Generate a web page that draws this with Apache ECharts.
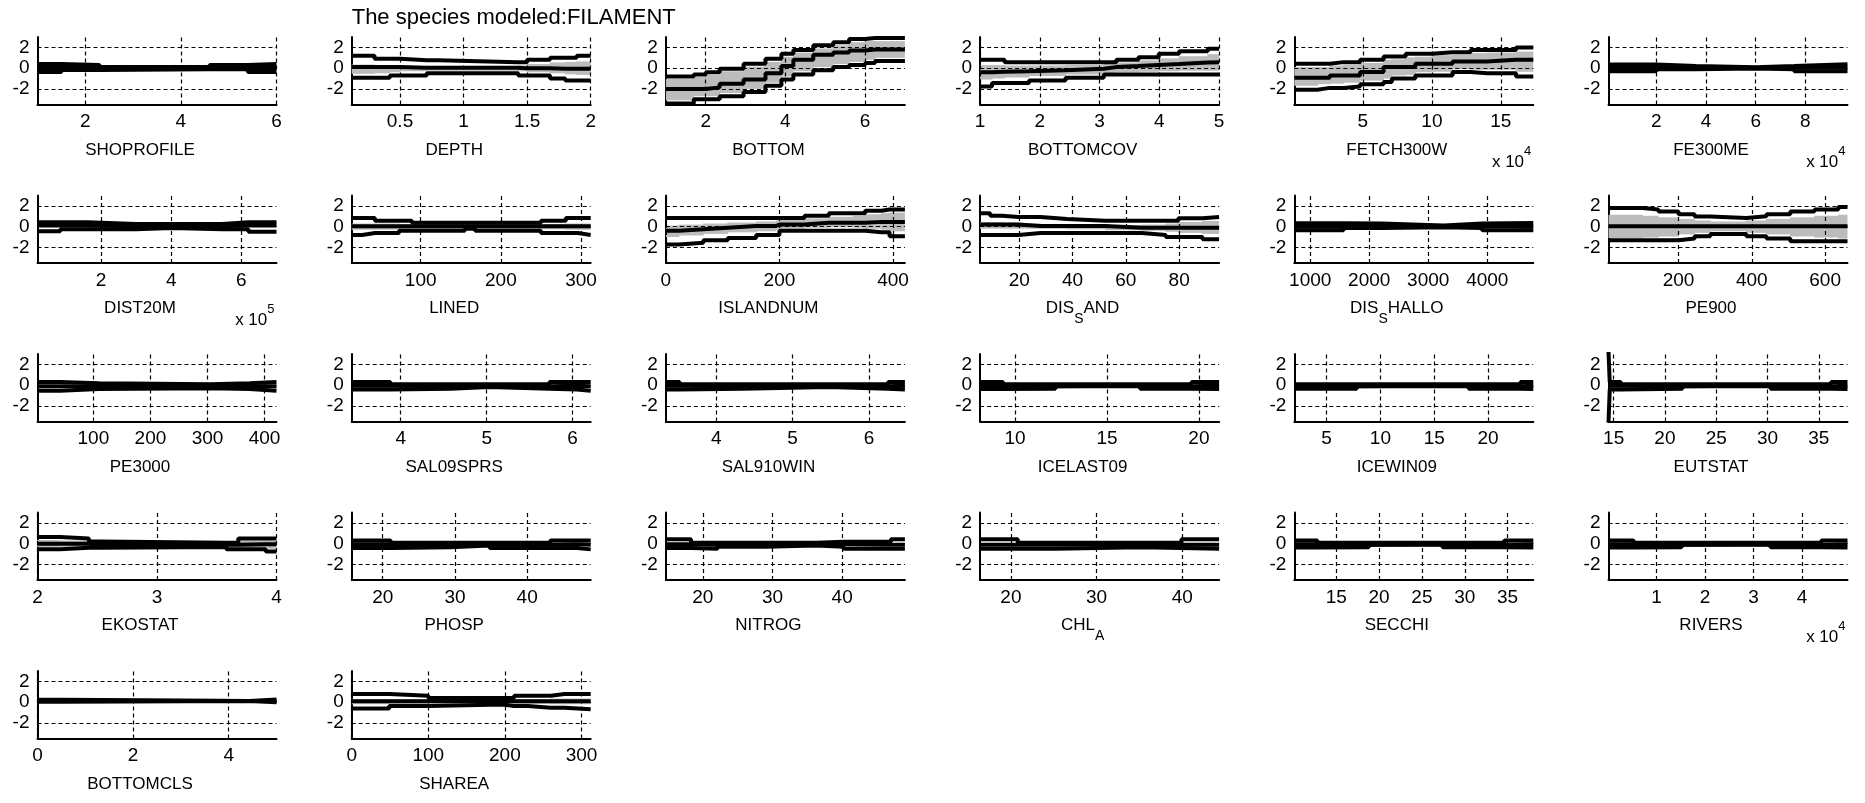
<!DOCTYPE html>
<html>
<head>
<meta charset="UTF-8">
<title>FILAMENT response curves</title>
<script src="https://cdn.jsdelivr.net/npm/echarts@6/dist/echarts.min.js"></script>
<style>
  html, body { margin: 0; padding: 0; background: #fff; }
  #main { width: 1865px; height: 803px; }
</style>
</head>
<body>
<div id="main"></div>
<script>
// predictor names (underscore = subscript, as in the original TeX labels)
var names = ['SHOPROFILE', 'DEPTH', 'BOTTOM', 'BOTTOMCOV', 'FETCH300W', 'FE300ME',
  'DIST20M', 'LINED', 'ISLANDNUM', 'DIS_SAND', 'DIS_SHALLO', 'PE900',
  'PE3000', 'SAL09SPRS', 'SAL910WIN', 'ICELAST09', 'ICEWIN09', 'EUTSTAT',
  'EKOSTAT', 'PHOSP', 'NITROG', 'CHL_A', 'SECCHI', 'RIVERS',
  'BOTTOMCLS', 'SHAREA'];

// x range and tick labels, in the units shown on the axis
var xMin = [1, 0.12, 1, 1, 0.03, 0.07, 0.19, 14, 0, 5.3, 730, 9,
  2, 3.43, 3.34, 8.1, 2, 14.5, 2, 15.7, 14.7, 16.4, 10.1, 0.01, 0, 0];
var xMax = [6, 2, 7, 5, 17.35, 9.7, 7, 312, 421, 95, 4780, 661,
  421, 6.21, 6.47, 21.1, 24.2, 37.8, 4, 48.8, 49, 44.3, 38, 4.94, 5, 312];
var xTicks = [[2, 4, 6], [0.5, 1, 1.5, 2], [2, 4, 6], [1, 2, 3, 4, 5], [5, 10, 15], [2, 4, 6, 8],
  [2, 4, 6], [100, 200, 300], [0, 200, 400], [20, 40, 60, 80], [1000, 2000, 3000, 4000], [200, 400, 600],
  [100, 200, 300, 400], [4, 5, 6], [4, 5, 6], [10, 15, 20], [5, 10, 15, 20], [15, 20, 25, 30, 35],
  [2, 3, 4], [20, 30, 40], [20, 30, 40], [20, 30, 40], [15, 20, 25, 30, 35], [1, 2, 3, 4],
  [0, 2, 4], [0, 100, 200, 300]];
// axis multiplier (x 10^n), 0 = none
var xExp = [0, 0, 0, 0, 4, 4, 5, 0, 0, 0, 0, 0,
  0, 0, 0, 0, 0, 0, 0, 0, 0, 0, 0, 4, 0, 0];
var yTicks = [-2, 0, 2];

// stair edges and per-step values: upper, mean, lower curves and grey band
var bins = [
  [1, 1.5, 2.3, 4.6, 5.4, 6],
  [0.12, 0.3, 0.42, 0.5, 0.71, 0.8, 1.43, 1.5, 1.68, 1.8, 1.89, 2.0],
  [1, 1.7, 2.0, 2.35, 2.95, 3.5, 3.9, 4.2, 4.7, 5.2, 5.6, 6.0, 6.25, 7.0],
  [1, 1.2, 1.41, 1.82, 2.43, 3.07, 3.28, 3.65, 3.99, 4.33, 4.81, 5],
  [0.03, 1.7, 2.6, 3.6, 4.8, 6.5, 7.1, 8.1, 8.8, 10, 11.5, 12.8, 14, 16.1, 17.35],
  [0.07, 2.0, 3.6, 6.0, 7.55, 9.7],
  [0.19, 0.84, 1.62, 3.0, 4.0, 5.45, 6.2, 7.0],
  [14, 27, 43, 73, 89, 155, 168, 234, 250, 281, 296, 312],
  [0, 23, 66, 109, 159, 194, 200, 244, 287, 330, 351, 380, 394, 421],
  [5.3, 9.1, 13.6, 19.7, 28, 38, 52.3, 66, 75, 79.7, 88.8, 95],
  [730, 1565, 2211, 3265, 3912, 4780],
  [9, 102, 145, 200, 244, 287, 385, 440, 505, 571, 636, 661],
  [2, 42, 110, 305, 374, 421],
  [3.43, 3.88, 4.58, 5.03, 5.73, 6.05, 6.21],
  [3.34, 3.52, 4.34, 5.47, 6.25, 6.47],
  [8.1, 9.35, 12.2, 16.8, 19.6, 21.1],
  [2, 7.8, 18.2, 23, 24.2],
  [14.5, 14.62, 15.7, 21.7, 30.3, 36.2, 37.8],
  [2, 2.19, 2.43, 2.52, 3.58, 3.68, 3.91, 4],
  [15.7, 21.1, 29.4, 34.8, 43.2, 46.9, 48.8],
  [14.7, 18.3, 22.1, 29, 36.3, 40.2, 47, 49],
  [16.4, 20.8, 25.2, 35.1, 39.9, 44.3],
  [10.1, 12.8, 18.8, 27.4, 34.6, 38],
  [0.01, 0.53, 1.52, 3.35, 4.4, 4.94],
  [0, 0.5, 4.44, 5],
  [0, 49, 100, 198, 212, 230, 260, 278, 312]
];
var upper = [
  [0.4, 0.3, 0.1, 0.3, 0.4],
  [1.2, 0.9, 0.9, 0.75, 0.75, 0.58, 0.58, 0.8, 1.0, 1.0, 1.2],
  [-0.8, -0.6, -0.4, -0.06, 0.42, 0.9, 1.38, 1.76, 2.2, 2.5, 2.8, 2.9, 2.9],
  [0.8, 0.8, 0.58, 0.58, 0.58, 0.58, 0.8, 1.05, 1.38, 1.63, 1.86],
  [0.42, 0.42, 0.58, 0.58, 0.8, 1.12, 1.12, 1.38, 1.38, 1.54, 1.54, 1.76, 1.76, 2.0],
  [0.35, 0.2, 0.08, 0.2, 0.38],
  [0.42, 0.42, 0.26, 0.26, 0.26, 0.42, 0.42],
  [0.83, 0.83, 0.58, 0.58, 0.37, 0.37, 0.37, 0.37, 0.58, 0.83, 0.83],
  [0.83, 0.83, 0.83, 0.83, 0.83, 0.83, 0.83, 1.05, 1.3, 1.3, 1.54, 1.66, 1.66],
  [1.3, 1.05, 0.92, 0.92, 0.74, 0.58, 0.58, 0.58, 0.58, 0.8, 0.92],
  [0.32, 0.3, 0.12, 0.3, 0.36],
  [1.8, 1.66, 1.45, 1.2, 0.98, 0.83, 1.0, 1.2, 1.45, 1.66, 1.9],
  [0.3, 0.18, 0.08, 0.18, 0.3],
  [0.3, 0.08, 0.08, 0.08, 0.3, 0.3],
  [0.3, 0.08, 0.08, 0.08, 0.3],
  [0.3, 0.08, 0.08, 0.08, 0.3],
  [0.08, 0.08, 0.08, 0.3],
  [3.2, 0.3, 0.08, 0.08, 0.08, 0.3],
  [0.65, 0.5, 0.2, 0.08, 0.08, 0.5, 0.5],
  [0.3, 0.08, 0.08, 0.08, 0.3, 0.3],
  [0.42, 0.08, 0.08, 0.08, 0.18, 0.18, 0.42],
  [0.42, 0.08, 0.08, 0.08, 0.42],
  [0.3, 0.08, 0.08, 0.08, 0.3],
  [0.3, 0.08, 0.08, 0.08, 0.3],
  [0.24, 0.12, 0.26],
  [0.78, 0.62, 0.4, 0.4, 0.62, 0.62, 0.78, 0.78]
];
var mean = [
  [0.02, 0.05, 0.0, 0.05, 0.02],
  [0.1, 0.1, 0.1, 0.05, 0.05, 0.05, 0.0, 0.0, -0.05, -0.05, -0.05],
  [-2.0, -2.0, -1.85, -1.5, -1.1, -0.5, 0.2, 0.8, 1.3, 1.5, 1.7, 1.8, 1.8],
  [-0.4, -0.35, -0.3, -0.2, -0.05, 0.1, 0.2, 0.3, 0.4, 0.55, 0.58],
  [-0.93, -0.93, -0.7, -0.7, -0.38, 0.1, 0.1, 0.1, 0.42, 0.42, 0.64, 0.64, 0.8, 0.8],
  [0.02, 0.05, 0.02, 0.05, 0.03],
  [0.1, 0.1, 0.05, 0.05, 0.05, 0.1, 0.1],
  [0.05, 0.05, 0.05, 0.05, 0.05, 0.05, 0.05, 0.05, 0.05, 0.05, 0.05],
  [-0.4, -0.25, -0.1, 0.06, 0.06, 0.2, 0.2, 0.37, 0.37, 0.37, 0.46, 0.46, 0.46],
  [0.2, 0.2, 0.2, 0.06, 0.06, 0.06, -0.1, -0.1, -0.1, -0.1, -0.1],
  [0.0, 0.05, 0.02, 0.05, 0.0],
  [0.03, 0.03, 0.03, 0.03, 0.03, 0.03, 0.03, 0.03, 0.03, 0.03, 0.03],
  [-0.1, -0.1, -0.1, -0.1, -0.1],
  [-0.05, -0.1, -0.05, -0.1, -0.05, -0.1],
  [-0.05, -0.1, -0.05, -0.1, -0.05],
  [-0.05, -0.1, -0.03, -0.1, -0.05],
  [-0.1, -0.03, -0.1, -0.05],
  [-0.05, -0.05, -0.1, -0.03, -0.1, -0.05],
  [0.0, 0.0, -0.1, -0.1, -0.1, -0.05, -0.05],
  [-0.05, -0.1, -0.05, -0.1, -0.05, -0.1],
  [-0.05, -0.1, -0.1, -0.05, -0.05, -0.1, -0.1],
  [-0.1, -0.1, -0.05, -0.1, -0.1],
  [-0.05, -0.1, -0.03, -0.1, -0.05],
  [-0.05, -0.1, -0.03, -0.1, -0.05],
  [0.14, 0.12, 0.12],
  [0.08, 0.08, 0.08, 0.08, 0.08, 0.08, 0.08, 0.08]
];
var lower = [
  [-0.38, -0.18, -0.1, -0.1, -0.38],
  [-0.93, -0.93, -0.7, -0.7, -0.5, -0.5, -0.7, -0.7, -1.0, -1.2, -1.2],
  [-3.4, -3.0, -3.0, -2.7, -2.3, -1.7, -1.1, -0.6, -0.2, 0.1, 0.3, 0.5, 0.7],
  [-1.76, -1.44, -1.44, -1.18, -0.93, -0.6, -0.6, -0.6, -0.6, -0.6, -0.6],
  [-2.08, -1.9, -1.9, -1.76, -1.55, -1.34, -1.0, -1.0, -0.7, -0.7, -0.38, -0.5, -0.5, -0.8],
  [-0.3, -0.1, -0.04, -0.1, -0.3],
  [-0.45, -0.24, -0.24, -0.14, -0.24, -0.24, -0.5],
  [-0.8, -0.62, -0.62, -0.4, -0.4, -0.2, -0.4, -0.4, -0.62, -0.62, -0.8],
  [-1.72, -1.54, -1.3, -1.1, -0.8, -0.8, -0.4, -0.4, -0.4, -0.4, -0.55, -0.55, -0.92],
  [-0.8, -0.8, -0.8, -0.62, -0.62, -0.62, -0.62, -0.8, -1.0, -1.0, -1.22],
  [-0.34, -0.14, -0.06, -0.14, -0.34],
  [-1.3, -1.3, -1.3, -1.15, -0.92, -0.7, -0.92, -1.15, -1.4, -1.4, -1.4],
  [-0.55, -0.38, -0.3, -0.38, -0.55],
  [-0.42, -0.34, -0.18, -0.34, -0.42, -0.55],
  [-0.42, -0.34, -0.18, -0.34, -0.42],
  [-0.36, -0.34, -0.1, -0.34, -0.36],
  [-0.34, -0.1, -0.34, -0.36],
  [-3.6, -0.42, -0.34, -0.1, -0.34, -0.36],
  [-0.55, -0.4, -0.4, -0.32, -0.55, -0.55, -0.75],
  [-0.42, -0.34, -0.18, -0.42, -0.42, -0.55],
  [-0.42, -0.5, -0.3, -0.18, -0.3, -0.5, -0.5],
  [-0.5, -0.5, -0.34, -0.42, -0.5],
  [-0.36, -0.34, -0.1, -0.34, -0.36],
  [-0.36, -0.34, -0.1, -0.34, -0.36],
  [0.04, 0.12, -0.02],
  [-0.62, -0.37, -0.22, -0.37, -0.37, -0.53, -0.53, -0.69]
];
// grey band (null where it is hidden under the black curves)
var bandHi = [
  null,
  [0.35, 0.3, 0.25, 0.2, 0.2, 0.2, 0.25, 0.4, 0.55, 0.6, 0.65],
  [-1.05, -0.85, -0.65, -0.3, 0.15, 0.6, 1.1, 1.5, 1.9, 2.2, 2.5, 2.6, 2.6],
  [0.3, 0.3, 0.25, 0.25, 0.3, 0.4, 0.55, 0.75, 0.95, 1.15, 1.35],
  [0.1, 0.1, 0.25, 0.3, 0.5, 0.8, 0.85, 1.05, 1.1, 1.25, 1.3, 1.45, 1.5, 1.6],
  null, null,
  [0.3, 0.3, 0.3, 0.25, 0.2, 0.2, 0.2, 0.2, 0.25, 0.3, 0.3],
  [0.1, 0.2, 0.3, 0.4, 0.5, 0.6, 0.65, 0.8, 0.95, 1.05, 1.2, 1.3, 1.35],
  [0.45, 0.45, 0.4, 0.3, 0.25, 0.2, 0.15, 0.2, 0.3, 0.45, 0.55],
  null,
  [1.15, 1.05, 0.9, 0.75, 0.6, 0.5, 0.6, 0.75, 0.9, 1.05, 1.15],
  null, null, null, null, null, null,
  [0.35, 0.3, 0.15, 0.05, 0.05, 0.3, 0.3],
  null, null, null, null, null, null,
  [0.3, 0.3, 0.25, 0.25, 0.3, 0.3, 0.35, 0.35]
];
var bandLo = [
  null,
  [-0.55, -0.5, -0.4, -0.3, -0.25, -0.25, -0.3, -0.4, -0.5, -0.6, -0.65],
  [-3.1, -2.7, -2.7, -2.4, -2.0, -1.4, -0.8, -0.3, 0.1, 0.4, 0.6, 0.8, 1.0],
  [-1.1, -1.0, -0.9, -0.75, -0.6, -0.45, -0.4, -0.35, -0.3, -0.25, -0.25],
  [-1.7, -1.55, -1.5, -1.4, -1.2, -1.0, -0.7, -0.65, -0.4, -0.35, -0.1, -0.15, -0.15, -0.35],
  null, null,
  [-0.3, -0.3, -0.3, -0.25, -0.2, -0.2, -0.2, -0.2, -0.25, -0.3, -0.3],
  [-1.0, -0.85, -0.7, -0.55, -0.45, -0.3, -0.2, -0.1, -0.05, -0.1, -0.2, -0.3, -0.45],
  [-0.2, -0.2, -0.2, -0.2, -0.2, -0.25, -0.35, -0.4, -0.5, -0.6, -0.7],
  null,
  [-1.1, -1.05, -0.95, -0.75, -0.6, -0.45, -0.6, -0.75, -0.95, -1.05, -1.15],
  null, null, null, null, null, null,
  [-0.35, -0.3, -0.3, -0.25, -0.4, -0.4, -0.5],
  null, null, null, null, null, null,
  [-0.2, -0.15, -0.1, -0.1, -0.15, -0.15, -0.2, -0.2]
];

// subplot layout (pixels)
var COL0 = 37.5, COLSTEP = 314.2, PW = 239;
var ROW0 = 37, ROWSTEP = 158.5, PH = 67.5;
var YMIN = -3.5, YMAX = 3;
var FONT = "'Liberation Sans', Arial, Helvetica, sans-serif";
var FS = 19;

// stairs: value k holds from edge k to edge k+1
function stairs(edges, vals) {
  var d = [];
  for (var k = 0; k < vals.length; k++) d.push([edges[k], vals[k]]);
  d.push([edges[edges.length - 1], vals[vals.length - 1]]);
  return d;
}

function nameRich(n) {
  var k = n.indexOf('_');
  if (k < 0) return '{n|' + n + '}';
  var s = '{n|' + n.slice(0, k) + '}{s|' + n.charAt(k + 1) + '}';
  if (n.length > k + 2) s += '{n|' + n.slice(k + 2) + '}';
  return s;
}

// one grey rectangle per stair step of the band
function bandItem(params, api) {
  var p0 = api.coord([api.value(0), api.value(3)]);
  var p1 = api.coord([api.value(1), api.value(2)]);
  var cs = params.coordSys;
  var shape = echarts.graphic.clipRectByRect(
    {x: p0[0] - 0.4, y: p0[1], width: p1[0] - p0[0] + 0.8, height: p1[1] - p0[1]},
    {x: cs.x, y: cs.y, width: cs.width, height: cs.height});
  return shape && {type: 'rect', shape: shape, style: {fill: '#bcbcbc'}};
}

function buildOption() {
  var grids = [], xAxes = [], yAxes = [], series = [], graphics = [];

  for (var i = 0; i < names.length; i++) {
    var row = Math.floor(i / 6), col = i % 6;
    var gLeft = COL0 + COLSTEP * col, gTop = ROW0 + ROWSTEP * row;
    grids.push({left: gLeft, top: gTop, width: PW, height: PH});

    xAxes.push({
      gridIndex: i, type: 'value', min: xMin[i], max: xMax[i],
      axisLine: {show: true, onZero: false, lineStyle: {color: '#000', width: 2}},
      axisTick: {show: false}, splitLine: {show: false},
      axisLabel: {customValues: xTicks[i], color: '#000', fontSize: FS, fontFamily: FONT, margin: 8,
        formatter: function (v) { return String(v); }},
      name: nameRich(names[i]), nameLocation: 'middle', nameGap: 37,
      nameTextStyle: {
        padding: [0, 34, 0, 0],
        rich: {
          n: {fontSize: 17, fontFamily: FONT, color: '#000', lineHeight: 20, verticalAlign: 'top'},
          s: {fontSize: 14, fontFamily: FONT, color: '#000', lineHeight: 26, verticalAlign: 'bottom'}
        }
      }
    });
    yAxes.push({
      gridIndex: i, type: 'value', min: YMIN, max: YMAX,
      axisLine: {show: true, onZero: false, lineStyle: {color: '#000', width: 2}},
      axisTick: {show: false}, splitLine: {show: false},
      axisLabel: {customValues: yTicks, color: '#000', fontSize: FS, fontFamily: FONT, margin: 8}
    });

    // dashed grid at the ticks
    var gl = [];
    yTicks.forEach(function (v) { gl.push({yAxis: v}); });
    xTicks[i].forEach(function (v) { gl.push({xAxis: v}); });
    series.push({
      type: 'line', xAxisIndex: i, yAxisIndex: i, z: 1, silent: true,
      data: [[xMin[i], YMIN]], symbol: 'none', lineStyle: {opacity: 0},
      markLine: {silent: true, symbol: 'none', label: {show: false},
        lineStyle: {color: '#000', type: [4, 3], width: 1.2}, data: gl, animation: false}
    });

    if (bandHi[i]) {
      var cells = [];
      for (var k = 0; k < bandHi[i].length; k++) {
        cells.push([bins[i][k], bins[i][k + 1], bandLo[i][k], bandHi[i][k]]);
      }
      series.push({
        type: 'custom', xAxisIndex: i, yAxisIndex: i, z: 2, silent: true,
        renderItem: bandItem, encode: {x: [0, 1], y: [2, 3]}, data: cells
      });
    }

    [upper[i], lower[i], mean[i]].forEach(function (vals) {
      series.push({
        type: 'line', xAxisIndex: i, yAxisIndex: i, z: 3, step: 'end',
        symbol: 'none', data: stairs(bins[i], vals),
        lineStyle: {color: '#000', width: 4}
      });
    });

    if (xExp[i]) {
      graphics.push({
        type: 'text', x: gLeft + PW - 2, y: gTop + PH + 40,
        style: {
          text: '{a|x 10}{b|' + xExp[i] + '}', align: 'right', verticalAlign: 'top',
          rich: {
            a: {fontSize: 17, fontFamily: FONT, fill: '#000', lineHeight: 26, verticalAlign: 'bottom'},
            b: {fontSize: 13, fontFamily: FONT, fill: '#000', lineHeight: 26, verticalAlign: 'top'}
          }
        }
      });
    }
  }

  graphics.push({
    type: 'text', x: COL0 + COLSTEP, y: 7,
    style: {text: 'The species modeled:FILAMENT', font: '22px ' + FONT, fill: '#000'}
  });

  return {
    animation: false,
    backgroundColor: '#fff',
    grid: grids,
    xAxis: xAxes,
    yAxis: yAxes,
    series: series,
    graphic: graphics
  };
}

var chart = echarts.init(document.getElementById('main'));
chart.setOption(buildOption());
</script>
</body>
</html>
